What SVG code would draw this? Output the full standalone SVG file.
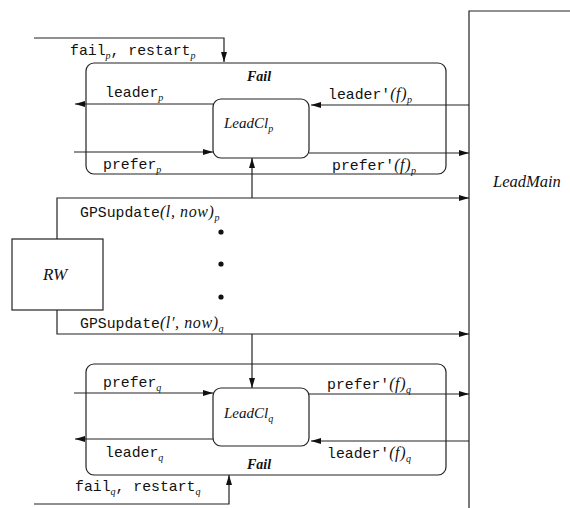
<svg xmlns="http://www.w3.org/2000/svg" width="570" height="508" viewBox="0 0 570 508">
<style>
.ln{fill:none;stroke:#222;stroke-width:1.2}
.box{fill:none;stroke:#222;stroke-width:1.2}
.mono{font-family:"Liberation Mono","DejaVu Sans Mono",monospace;font-size:14.8px;fill:#111}
.it{font-family:"Liberation Serif","DejaVu Serif",serif;font-style:italic;font-size:15px;fill:#111}
.mi{font-family:"Liberation Serif","DejaVu Serif",serif;font-style:italic;font-size:16px;letter-spacing:0.6px}
.bi{font-family:"Liberation Serif","DejaVu Serif",serif;font-style:italic;font-weight:bold;font-size:14px;fill:#111}
.sub{font-family:"Liberation Serif","DejaVu Serif",serif;font-style:italic;font-size:10px}
</style>
<defs>
<marker id="ah" viewBox="0 0 10 6" refX="10" refY="3" markerWidth="10" markerHeight="6" markerUnits="userSpaceOnUse" orient="auto">
<path d="M0,0 L10,3 L0,6 Z" fill="#111"/>
</marker>
</defs>
<rect width="570" height="508" fill="#fff"/>

<g id="LeadMain">
<path class="ln" d="M570,11 H469 V508"/>
<text class="it" x="493" y="187" style="font-size:16.5px">LeadMain</text>
</g>

<g id="RW">
<rect class="box" x="12" y="239" width="91" height="71"/>
<text class="it" x="55" y="280" text-anchor="middle" style="font-size:17px">RW</text>
</g>

<g id="FailP">
<rect class="box" x="86" y="63" width="360" height="111" rx="8"/>
<text class="bi" x="247" y="81">Fail</text>
</g>
<g id="LeadClP">
<rect class="box" x="213" y="99" width="96" height="59" rx="8"/>
<text class="it" x="224" y="128">LeadCl<tspan class="sub" dy="4">p</tspan></text>
</g>

<g id="FailQ">
<rect class="box" x="86" y="364" width="360" height="111" rx="8"/>
<text class="bi" x="247" y="469">Fail</text>
</g>
<g id="LeadClQ">
<rect class="box" x="213" y="388" width="96" height="58" rx="8"/>
<text class="it" x="224" y="418">LeadCl<tspan class="sub" dy="4">q</tspan></text>
</g>

<g id="dots" fill="#111">
<circle cx="221" cy="232" r="2.6"/>
<circle cx="221" cy="264" r="2.6"/>
<circle cx="221" cy="297" r="2.6"/>
</g>

<g id="connectors">
<path class="ln" d="M34,38 H224 V62" marker-end="url(#ah)"/>
<path class="ln" d="M213,104 H75" marker-end="url(#ah)"/>
<path class="ln" d="M74,152 H213" marker-end="url(#ah)"/>
<path class="ln" d="M469,105 H311" marker-end="url(#ah)"/>
<path class="ln" d="M309,153 H469" marker-end="url(#ah)"/>
<path class="ln" d="M252,198 V158" marker-end="url(#ah)"/>
<path class="ln" d="M57,239 V198 H469" marker-end="url(#ah)"/>
<path class="ln" d="M57,310 V334 H469" marker-end="url(#ah)"/>
<path class="ln" d="M252,334 V388" marker-end="url(#ah)"/>
<path class="ln" d="M74,393 H213" marker-end="url(#ah)"/>
<path class="ln" d="M213,439 H75" marker-end="url(#ah)"/>
<path class="ln" d="M309,394 H469" marker-end="url(#ah)"/>
<path class="ln" d="M469,441 H311" marker-end="url(#ah)"/>
<path class="ln" d="M34,504 H229 V475" marker-end="url(#ah)"/>
</g>

<g id="labels">
<text class="mono" x="70" y="55">fail<tspan class="sub" dy="4">p</tspan><tspan dy="-4">, restart</tspan><tspan class="sub" dy="4">p</tspan></text>
<text class="mono" x="105" y="97">leader<tspan class="sub" dy="4">p</tspan></text>
<text class="mono" x="103" y="169">prefer<tspan class="sub" dy="4">p</tspan></text>
<text class="mono" x="328" y="99">leader'<tspan class="mi">(f)</tspan><tspan class="sub" dy="4">p</tspan></text>
<text class="mono" x="332" y="170">prefer'<tspan class="mi">(f)</tspan><tspan class="sub" dy="4">p</tspan></text>
<text class="mono" x="80" y="217">GPSupdate<tspan class="mi">(l, now)</tspan><tspan class="sub" dy="4">p</tspan></text>
<text class="mono" x="80" y="328">GPSupdate<tspan class="mi">(l′, now)</tspan><tspan class="sub" dy="4">q</tspan></text>
<text class="mono" x="103" y="387">prefer<tspan class="sub" dy="4">q</tspan></text>
<text class="mono" x="105" y="457">leader<tspan class="sub" dy="4">q</tspan></text>
<text class="mono" x="327" y="389">prefer'<tspan class="mi">(f)</tspan><tspan class="sub" dy="4">q</tspan></text>
<text class="mono" x="327" y="458">leader'<tspan class="mi">(f)</tspan><tspan class="sub" dy="4">q</tspan></text>
<text class="mono" x="75" y="491">fail<tspan class="sub" dy="4">q</tspan><tspan dy="-4">, restart</tspan><tspan class="sub" dy="4">q</tspan></text>
</g>
</svg>
